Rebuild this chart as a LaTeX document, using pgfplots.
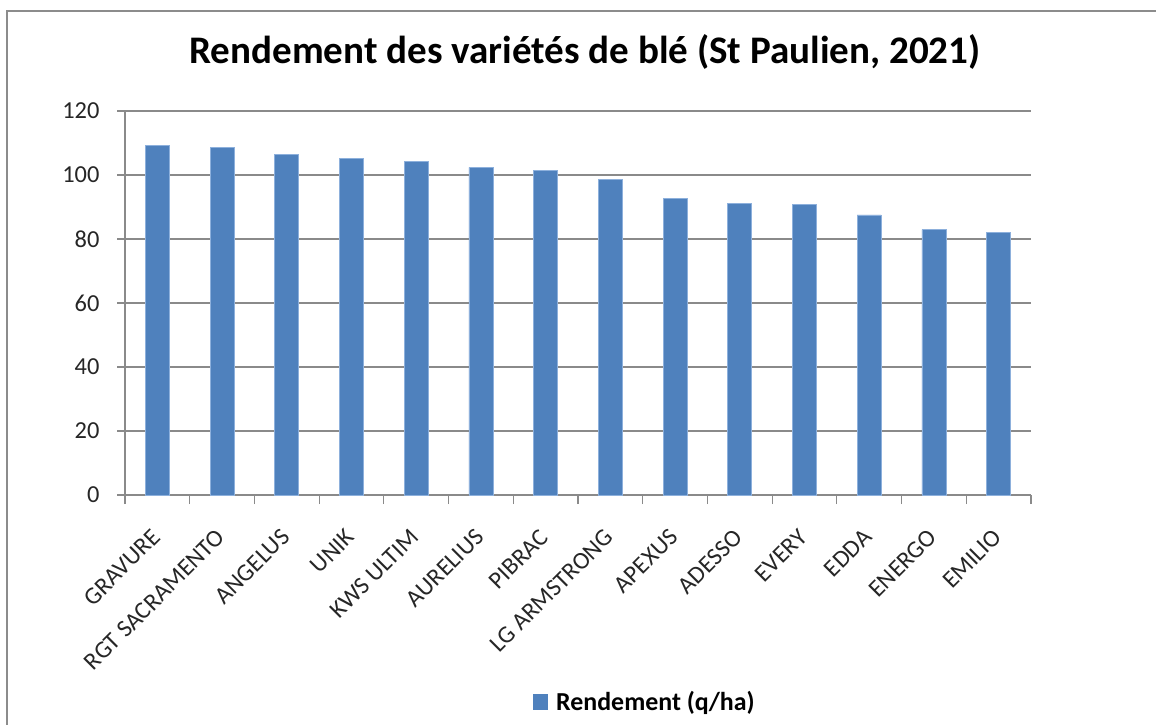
\documentclass[border=0pt]{standalone}
\usepackage{pgfplots}
\pgfplotsset{compat=1.18}
\usepackage{fontspec}
\setmainfont{Carlito}
\definecolor{barblue}{HTML}{4F81BD}
\definecolor{baredge}{HTML}{8DB0DC}
\definecolor{gridgray}{HTML}{8A8A8A}
\definecolor{framegray}{HTML}{8C8C8C}
\begin{document}
\begin{tikzpicture}
\useasboundingbox (0bp,0bp) rectangle (1156bp,725bp);
\draw[framegray, line width=2bp] (7bp,0bp) -- (7bp,714bp) -- (1156bp,714bp);
\node[font=\fontsize{39.2}{46}\selectfont\bfseries, anchor=base, inner sep=0pt] at (585bp,661bp) {Rendement des variétés de blé (St Paulien, 2021)};
\begin{axis}[
  at={(125bp,230bp)}, anchor=south west,
  scale only axis, width=906bp, height=384bp,
  xmin=-0.5, xmax=13.5, ymin=0, ymax=120,
  ytick={0,20,...,120},
  xtick={0,...,13},
  xticklabels={GRAVURE,RGT SACRAMENTO,ANGELUS,UNIK,KWS ULTIM,AURELIUS,PIBRAC,LG ARMSTRONG,APEXUS,ADESSO,EVERY,EDDA,ENERGO,EMILIO},
  minor xtick={-0.5,0.5,...,13.5},
  axis lines*=left,
  axis line style={gridgray, line width=1.2bp},
  tick align=outside,
  major tick length=8bp, minor tick length=9bp,
  major x tick style={draw=none},
  minor x tick style={gridgray, line width=1.2bp},
  major y tick style={gridgray, line width=1.2bp},
  ymajorgrids, grid style={gridgray, line width=1.2bp},
  /pgf/number format/assume math mode=true,
  yticklabel style={font=\fontsize{24.5}{29}\selectfont, anchor=east, xshift=-14bp, text=black!85},
  xticklabel style={font=\fontsize{24.5}{29}\selectfont, rotate=45, anchor=north east, xshift=-19bp, yshift=-9bp, text=black!85},
  legend style={at={(0.574,-0.539)}, anchor=center, draw=none, fill=none, font=\fontsize{26}{30}\selectfont\bfseries, inner sep=0pt},
  legend image code/.code={\fill[barblue] (0bp,-7bp) rectangle (14bp,8bp); \path (20bp,0bp);},
  clip=false,
]
\addplot[ybar, bar width=24bp, fill=barblue, draw=baredge, line width=0.8bp] coordinates {
(0,109.3) (1,108.6) (2,106.3) (3,105.3) (4,104.1) (5,102.4) (6,101.5)
(7,98.5) (8,92.6) (9,91.0) (10,90.7) (11,87.5) (12,82.9) (13,82.0)};
\addlegendentry{Rendement (q/ha)}
\end{axis}
\end{tikzpicture}
\end{document}
